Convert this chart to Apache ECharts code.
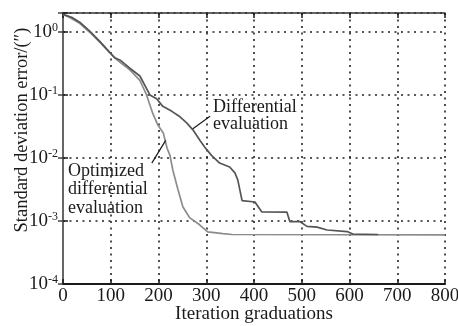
<!DOCTYPE html>
<html>
<head>
<meta charset="utf-8">
<script src="https://cdn.jsdelivr.net/npm/echarts@6/dist/echarts.min.js"></script>
<style>
  html, body { margin: 0; padding: 0; background: #fff; }
  #chart { width: 458px; height: 326px; }
</style>
</head>
<body>
<div id="chart"></div>
<script>
// values (x = iteration, y = std deviation error)
const diffIter = [0, 18, 35, 56, 77, 94, 108, 119, 140, 161, 182, 196, 209, 228, 245, 259, 272, 287, 297, 311, 328, 349, 360, 366, 375, 402, 416, 469, 475, 496, 511, 532, 553, 595, 607, 660];
const diffErr = [1.9, 1.71, 1.43, 1.03, 0.71, 0.51, 0.39, 0.36, 0.266, 0.2, 0.1, 0.087, 0.066, 0.055, 0.045, 0.036, 0.028, 0.019, 0.0148, 0.011, 0.0083, 0.0072, 0.0058, 0.0045, 0.0021, 0.002, 0.0014, 0.00138, 0.00098, 0.00098, 0.00082, 0.0008, 0.00072, 0.00068, 0.00062, 0.00061];

const optIter = [0, 14, 35, 56, 77, 98, 115, 140, 161, 175, 188, 199, 210, 218, 224, 230, 241, 251, 265, 286, 303, 335, 354, 800];
const optErr = [1.9, 1.7, 1.37, 0.99, 0.69, 0.47, 0.35, 0.25, 0.17, 0.1, 0.051, 0.033, 0.025, 0.0143, 0.011, 0.0064, 0.0031, 0.00168, 0.00113, 0.00087, 0.00067, 0.00063, 0.00061, 0.0006];

const xTicks = [0, 100, 200, 300, 400, 500, 600, 700, 800];

const serif = '"Liberation Serif", "DejaVu Serif", serif';
const ink = '#1a1a1a';

const chart = echarts.init(document.getElementById('chart'));

const dotted = { color: '#222', width: 1.6, type: [2, 4.5] };

const zip = (xs, ys) => xs.map((x, i) => [x, ys[i]]);

const option = {
  animation: false,
  backgroundColor: '#fff',
  grid: { left: 63, right: 13, top: 13, bottom: 42, outerBoundsMode: 'none', containLabel: false },
  xAxis: [
    {
      type: 'value',
      min: xTicks[0],
      max: xTicks[xTicks.length - 1],
      interval: 100,
      position: 'bottom',
      axisLine: { lineStyle: { color: ink, width: 2 } },
      axisTick: { inside: true, length: 5, lineStyle: { color: ink, width: 1.5 } },
      axisLabel: { fontFamily: serif, fontSize: 19, color: ink, margin: 3 },
      splitLine: { show: true, lineStyle: dotted },
      name: 'Iteration graduations',
      nameLocation: 'middle',
      nameGap: 21,
      nameMoveOverlap: false,
      nameTextStyle: { fontFamily: serif, fontSize: 19, color: ink }
    },
    {
      type: 'value',
      min: 0,
      max: 800,
      interval: 100,
      position: 'top',
      axisLine: { lineStyle: { color: '#333', width: 1.5 } },
      axisTick: { inside: true, length: 5, lineStyle: { color: ink, width: 1.5 } },
      axisLabel: { show: false },
      splitLine: { show: false }
    }
  ],
  yAxis: [
    {
      type: 'log',
      logBase: 10,
      min: 1e-4,
      max: 2,
      position: 'left',
      axisLine: { lineStyle: { color: ink, width: 2 } },
      axisTick: { inside: true, length: 5, lineStyle: { color: ink, width: 1.5 } },
      axisLabel: {
        margin: 5,
        color: ink,
        fontFamily: serif,
        formatter: function (v) {
          const e = Math.log10(v);
          if (Math.abs(e - Math.round(e)) > 1e-6) return '';
          return '{b|10}{s|' + Math.round(e) + '}';
        },
        rich: {
          b: { fontFamily: serif, fontSize: 19, color: ink },
          s: { fontFamily: serif, fontSize: 12, color: ink, padding: [0, 0, 9, 0] }
        }
      },
      splitLine: { show: true, lineStyle: dotted }
    },
    {
      type: 'log',
      logBase: 10,
      min: 1e-4,
      max: 2,
      position: 'right',
      axisLine: { lineStyle: { color: '#666', width: 2 } },
      axisTick: { inside: true, length: 5, lineStyle: { color: '#444', width: 1.5 } },
      axisLabel: { show: false },
      splitLine: { show: false }
    }
  ],
  series: [
    {
      name: 'Optimized differential evaluation',
      type: 'line',
      data: zip(optIter, optErr),
      showSymbol: false,
      lineStyle: { color: '#8c8c8c', width: 1.7 },
      markLine: {
        silent: true,
        symbol: 'none',
        label: { show: false },
        lineStyle: { color: ink, width: 1.2, type: 'solid' },
        data: [[{ coord: [215, 0.019] }, { coord: [186, 0.0083] }]]
      }
    },
    {
      name: 'Differential evaluation',
      type: 'line',
      data: zip(diffIter, diffErr),
      showSymbol: false,
      lineStyle: { color: '#555', width: 1.7 },
      markLine: {
        silent: true,
        symbol: 'none',
        label: { show: false },
        lineStyle: { color: ink, width: 1.2, type: 'solid' },
        data: [[{ coord: [272, 0.029] }, { coord: [308, 0.046] }]]
      }
    }
  ],
  graphic: [
    {
      type: 'text',
      x: 22,
      y: 130,
      rotation: Math.PI / 2,
      style: {
        text: 'Standard deviation error/(\u2033)',
        font: '18.5px ' + serif,
        fill: ink,
        align: 'center',
        verticalAlign: 'middle'
      }
    },
    {
      type: 'text',
      x: 213,
      y: 99,
      style: {
        text: 'Differential\nevaluation',
        font: '18px ' + serif,
        lineHeight: 17,
        fill: ink
      }
    },
    {
      type: 'text',
      x: 68,
      y: 162,
      style: {
        text: 'Optimized\ndifferential\nevaluation',
        font: '18px ' + serif,
        lineHeight: 18.5,
        fill: ink
      }
    }
  ]
};

chart.setOption(option);
</script>
</body>
</html>
